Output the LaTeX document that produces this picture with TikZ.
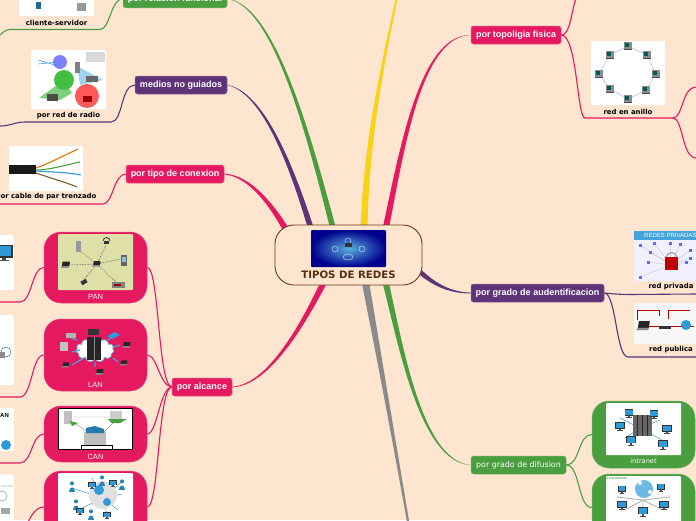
\documentclass[tikz,border=0pt]{standalone}
\usepackage{fontspec}
\setmainfont{Liberation Sans}
\newfontfamily\vfont{DejaVu Sans}
\usetikzlibrary{calc,backgrounds,shapes.geometric,shapes.symbols}
\definecolor{bgc}{HTML}{FDE5CF}
\definecolor{pk}{HTML}{E5195F}
\definecolor{pu}{HTML}{5F3378}
\definecolor{gr}{HTML}{4A9E3F}
\definecolor{ye}{HTML}{FBD116}
\definecolor{gy}{HTML}{8A8A8A}
\definecolor{br}{HTML}{6B3A14}
\definecolor{sky}{HTML}{2E9AD8}
\definecolor{panbg}{HTML}{DFDFA8}
\tikzset{
 pill/.style={rounded corners=2.5pt,inner sep=0pt,minimum height=18pt,text=white,font=\bfseries\fontsize{9}{10}\selectfont,draw=#1!75!white,line width=.5pt,fill=#1},
 bigcard/.style={rounded corners=17pt,inner sep=0pt,minimum width=103pt,fill=#1,draw=#1!80!white,line width=.5pt},
 photo/.style={rounded corners=1pt,inner sep=0pt,fill=white},
 caption/.style={font=\vfont\bfseries\fontsize{6.9}{8}\selectfont,text=black,inner sep=0pt},
 subcap/.style={font=\fontsize{7.5}{9}\selectfont,text=white!90!pink,inner sep=0pt},
 conn/.style={line width=1.1pt,#1},
}
% tapered main branch: colour, from, c1, c2, to, half-width x, half-width y
\newcommand\taper[7]{\fill[#1] ($(#2)+(#6,#7)$) .. controls ($(#3)+(#6*.7,#7*.7)$) and ($(#4)+(#6*.3,#7*.3)$) .. ($(#5)+(#6*.2,#7*.2)$) -- ($(#5)-(#6*.2,#7*.2)$) .. controls ($(#4)-(#6*.3,#7*.3)$) and ($(#3)-(#6*.7,#7*.7)$) .. ($(#2)-(#6,#7)$) -- cycle;}
% monitor icon
\newcommand\mon[3]{\begin{scope}[shift={(#1,#2)},scale=#3]\fill[black!80] (-4,-3.2) rectangle (4,2.6);\fill[sky] (-3.3,-2.6) rectangle (3.3,2);\fill[black!70] (-1,2.6) rectangle (1,3.6);\fill[black!70] (-2.4,3.6) rectangle (2.4,4.2);\end{scope}}
% laptop icon
\newcommand\lap[3]{\begin{scope}[shift={(#1,#2)},scale=#3]\fill[black!85] (-3.2,-3) -- (3.6,-3) -- (3,1.2) -- (-3.8,1.2) -- cycle;\fill[black!45] (-3.8,1.2) -- (3,1.2) -- (2.6,2.6) -- (-5,2.6) -- cycle;\end{scope}}
% ring computer icon
\newcommand\ringpc[2]{\begin{scope}[shift={(#1,#2)}]\fill[black!45] (-3.6,-4) rectangle (3.6,2.6);\fill[teal!70!black] (-2.8,-3) rectangle (.6,1);\fill[black!70] (-4,2.6) rectangle (4,4.2);\end{scope}}
% person icon
\newcommand\person[3]{\begin{scope}[shift={(#1,#2)},scale=#3]\fill[sky!85!black] (0,-3) circle (1.7);\fill[sky!85!black] (-2.3,4) .. controls (-2.3,-1) and (2.3,-1) .. (2.3,4) -- cycle;\end{scope}}
\begin{document}
\begin{tikzpicture}[x=1pt,y=-1pt]
\useasboundingbox (0,0) rectangle (696,520);
\begin{scope}
\clip (0,0) rectangle (696,520);
% ---------- central topic
\node (root) [rounded corners=19pt,draw=br,line width=.9pt,fill=bgc,minimum width=147pt,minimum height=60pt,inner sep=0pt] at (348.5,255) {};
\node (rootimg) [rounded corners=1pt,inner sep=0pt,minimum width=75pt,minimum height=37pt,inner color=sky!80!white,outer color=blue!55!black] at (348.5,248.5) {};
\draw[white,opacity=.7,line width=.5pt] (335,249) circle (3) (348,241) circle (3) (362,249) circle (3) (348,257) ellipse (5 and 3);
\fill[black!80] (345,243) rectangle (352,247);
\node (roottxt) [inner sep=0pt,text=br!80!black,font=\vfont\bfseries\fontsize{10.2}{12}\selectfont] at (348.5,275) {TIPOS DE REDES};
% ---------- main topics
\node (rel) [pill=gr,minimum width=104pt] at (175,-1.2) {por relacion funcional};
\node (med) [pill=pu,minimum width=92pt] at (181,85) {medios no guiados};
\node (tip) [pill=pk,minimum width=98pt] at (175,174) {por tipo de conexion};
\node (alc) [pill=pk,minimum width=60pt] at (202,387) {por alcance};
\node (top) [pill=pk,minimum width=90pt] at (516,35) {por topoligia fisica};
\node (aud) [pill=pu,minimum width=133pt] at (537.5,293) {por grado de audentificacion};
\node (dif) [pill=gr,minimum width=95pt,font=\vfont\fontsize{7.9}{10}\selectfont] at (518.5,465) {por grado de difusion};
% ---------- big coloured cards
\node (pan) [bigcard=pk,minimum height=71pt] at (95.5,267.5) {};
\node (lan) [bigcard=pk,minimum height=72pt] at (95.5,355) {};
\node (can) [bigcard=pk,minimum height=56pt] at (95.5,434) {};
\node (wan) [bigcard=pk,minimum height=72pt] at (95.5,507) {};
\node (int) [bigcard=gr,minimum height=67pt] at (643.5,434.5) {};
\node (ext) [bigcard=gr,minimum height=67pt] at (643.5,507.5) {};
% ---------- PAN
\node (panimg) [photo,fill=panbg,minimum width=75pt,minimum height=56pt] at (95.5,262) {};
\draw[densely dotted,black!70,line width=.6pt] (97,264) -- (80,251) (97,264) -- (106,245) (97,264) -- (121,259) (97,264) -- (83,281) (97,264) -- (117,283) (97,264) -- (70,265);
\lap{97}{264}{1}\lap{66}{265}{1.1}
\fill[black!40] (76,241) rectangle (81,252);
\draw[black!80,line width=.8pt] (103,241) arc (180:360:3.5);\fill[black!80] (104,241) rectangle (109,244);
\fill[black!60] (121,255) rectangle (127,266);\fill[sky!60!white] (122,257) rectangle (126,262);
\fill[black!80,rotate around={30:(84,282)}] (81,280) rectangle (87,284);
\fill[black!50] (112,282) rectangle (125,288);\fill[red!60!black] (114,284) rectangle (121,286);
\node (pantxt) [subcap] at (95.5,296.5) {PAN};
% ---------- LAN
\node (lancloud) [cloud,cloud puffs=11,aspect=1.5,fill=white,draw=sky!70!white,line width=.7pt,minimum width=38pt,minimum height=24pt,inner sep=0pt] at (95,350) {};
\fill[black!85] (87,337) rectangle (101,360);\draw[black!45,line width=.4pt] (94,337) -- (94,360);
\draw[sky!90!white,line width=1.2pt] (77,340) -- (71,338) (72,352) -- (80,350) (108,340) -- (114,336) (113,347) -- (120,345) (113,358) -- (118,362) (95,362) -- (95,367) (84,358) -- (72,365);
\fill[black!30] (66,333) rectangle (76,338);
\fill[black!25] (60,342) rectangle (68,351);
\fill[black!80] (88,329) rectangle (99,335);
\fill[sky] (107,336) -- (115,332) -- (120,335) -- (112,339) -- cycle;
\lap{127}{345}{1}\lap{124}{363}{.9}\lap{66}{365}{.9}\lap{100}{372}{1}
\node (lantxt) [subcap] at (95.5,384.5) {LAN};
% ---------- CAN
\node (canimg) [rectangle,inner sep=0pt,fill=white,draw=black,line width=.8pt,minimum width=74pt,minimum height=41pt] at (95.5,428.5) {};
\draw[black!40,line width=.4pt] (73,417) -- (108,417) (75,423) -- (90,434) (113,423) -- (102,434);
\fill[black!25] (64,411) rectangle (72,424);\fill[gr] (70,421) -- (78,423) -- (72,426) -- cycle;
\fill[black!20] (110,411) rectangle (122,423);\fill[gr] (108,419) -- (127,419) -- (120,423) -- (112,423) -- cycle;
\fill[black!25] (84,432) rectangle (106,446);\fill[sky!80!black] (86,428) -- (95,426) -- (104,429) -- (104,433) -- (86,433) -- cycle;
\draw[black,line width=.5pt] (81,445) rectangle (112,449);
\node (cantxt) [subcap] at (95.5,456.5) {CAN};
% ---------- WAN
\node (wanimg) [photo,minimum width=75pt,minimum height=56pt] at (95.5,501) {};
\draw[sky,line width=.5pt] (103,498) -- (72,488) (103,498) -- (78,510) (103,498) -- (92,478) (103,498) -- (122,494) (103,498) -- (118,510) (103,498) -- (108,519) (103,498) -- (124,480);
\fill[black!12] (103,495) circle (14);\fill[sky] (99,490) circle (5);\fill[sky] (107,502) circle (4);
\person{72}{487}{1.2}\person{102}{481}{1.2}\person{122}{485}{1.2}\person{91}{515}{1.2}\person{76}{505}{1.2}
\mon{92}{485}{.9}\mon{113}{483}{.9}\mon{107}{515}{.9}\mon{80}{511}{.9}
% ---------- right green cards
\node (intimg) [photo,minimum width=75pt,minimum height=52pt] at (643.5,429) {};
\draw[sky,line width=.5pt] (640,428) -- (620,418) (640,428) -- (660,420) (640,428) -- (625,438) (640,428) -- (662,440);
\fill[black!60] (633,415) rectangle (652,436);\draw[black!85,line width=.5pt] (637,415) -- (637,436) (642,415) -- (642,436) (647,415) -- (647,436);
\mon{629}{413}{1.1}\mon{654}{414}{1.1}\mon{620}{426}{1.2}\mon{667}{429}{1.2}\mon{631}{440}{1.3}\mon{663}{444}{1.3}
\node (inttxt) [inner sep=0pt,font=\vfont\fontsize{6.6}{8}\selectfont,text=white] at (643.5,461) {intranet};
\node (extimg) [photo,minimum width=75pt,minimum height=56pt] at (643.5,504) {};
\draw[black!30,line width=.9pt] (643,500) -- (617,497) (643,500) -- (625,510) (643,500) -- (643,515) (643,500) -- (663,510) (643,500) -- (670,497);
\fill[sky!70!white] (644,489) circle (9);\fill[white] (640,483) circle (2) (650,492) circle (2);
\mon{622}{489}{1}\mon{661}{487}{1}\mon{622}{505}{1.2}\mon{664}{505}{1.2}\mon{643}{511}{1.3}
\node (exttxt) [inner sep=0pt,font=\bfseries\fontsize{3.2}{4}\selectfont,text=gr] at (615.5,478.5) {La red Internet};
% ---------- white picture cards with captions
\node (cliimg) [photo,minimum width=75pt,minimum height=36pt] at (56.5,-2) {};
\fill[sky!70!black] (36,2) rectangle (41,9);\fill[black!40] (77,3) rectangle (86,11);
\node (clitxt) [caption] at (56.5,22.5) {cliente-servidor};
\node (radimg) [photo,minimum width=75pt,minimum height=59pt] at (68.5,79.5) {};
\fill[green!45!gray!70!white] (39,98) -- (64,80) -- (72,93) -- (60,100) -- cycle;
\fill[blue!50!white] (60,62) circle (7);
\fill[green!50!gray] (64,80) circle (10);
\fill[red!65!white] (87,96) circle (12);
\fill[sky!45!white] (77,66) -- (103,80) -- (80,85) -- cycle;
\fill[black!15] (86,52) rectangle (105,62);
\draw[sky,line width=.5pt] (38,60) -- (58,66) (38,64) -- (58,62);
\fill[black!50] (75,62) rectangle (80,73);\fill[black!60] (86,76) rectangle (98,82);
\fill[black!70] (47,94) rectangle (58,101);\fill[red!60!black] (83,96) rectangle (92,102);
\node (radtxt) [caption] at (68.5,115.5) {por red de radio};
\node (cabimg) [photo,minimum width=74pt,minimum height=45pt] at (46,168.5) {};
\fill[black!90] (9,165) rectangle (36,174);
\draw[orange!90!black,line width=1.1pt] (36,168) .. controls (50,163) and (65,155) .. (78,149);
\draw[gr,line width=1.1pt] (36,170) .. controls (50,170) and (65,165) .. (80,162);
\draw[sky,line width=1.1pt] (36,171) .. controls (50,172) and (65,172) .. (81,175);
\draw[brown!70!black,line width=1.1pt] (36,173) .. controls (50,178) and (65,182) .. (77,187);
\node (cabtxt) [caption] at (46,197) {por cable de par trenzado};
\node (anillo) [photo,minimum width=74pt,minimum height=64pt] at (628,73) {};
\draw[blue!30!white,line width=.5pt] (628,46) -- (647,55) -- (656,74) -- (646,90) -- (628,99) -- (610,89) -- (599,74) -- (610,55) -- cycle;
\ringpc{628}{46}\ringpc{647}{55}\ringpc{656}{74}\ringpc{646}{90}\ringpc{628}{99}\ringpc{610}{89}\ringpc{599}{74}\ringpc{610}{55}
\node (anitxt) [caption] at (628,111.5) {red en anillo};
\node (privimg) [photo,fill=blue!6!white,minimum width=62pt,minimum height=50pt,anchor=west] at (634,256) {};
\fill[sky!90!white] (634,231) rectangle (696,240);
\node (privhd) [inner sep=0pt,anchor=west,font=\fontsize{6}{7}\selectfont,text=white] at (644,235.5) {REDES PRIVADAS};
\foreach \a/\b in {640/245,648/262,650/252,640/277,680/244,690/250,690/258,686/262,654/243,670/243}{\draw[black!25,line width=.3pt] (671,265) -- (\a,\b);\fill[blue!60!white] (\a-1.5,\b-1.5) rectangle (\a+1.5,\b+1.5);}
\draw[black!40,line width=1pt] (666,258) arc (180:360:5.5);
\fill[red!75!black] (665,257) rectangle (678,270);
\node (privtxt) [caption] at (671,287) {red privada};
\node (pubimg) [photo,fill=black!3,minimum width=62pt,minimum height=41pt,anchor=west] at (634,323.5) {};
\draw[red!70!black,line width=.5pt] (637,320) -- (637,310) -- (659,310) -- (659,316) (668,319) -- (668,310) -- (690,310) (643,326) -- (694,326);
\lap{644}{326}{1.6}\fill[black!80] (659,326) rectangle (671,329);\fill[sky] (686,325) circle (5);
\node (pubtxt) [caption] at (671,349.5) {red publica};
% ---------- cut-off thumbnails at the left edge
\node (th1) [photo,minimum width=28pt,minimum height=55pt,anchor=east] at (14,262.5) {};
\mon{4}{252}{2.2}
\node (th2) [photo,minimum width=28pt,minimum height=70pt,anchor=east] at (14,350) {};
\draw[sky!70!black,line width=.5pt] (6,352) circle (5);\fill[black!45] (0,352) rectangle (5,358);
\node (th3) [photo,minimum width=28pt,minimum height=43pt,anchor=east] at (14,429.5) {};
\node (th3t) [inner sep=0pt,anchor=west,font=\bfseries\fontsize{6}{7}\selectfont] at (0,415) {AN};
\fill[sky] (6,445) circle (5);
\node (th4) [photo,minimum width=28pt,minimum height=55pt,anchor=east] at (14,502) {};
\draw[black!30,line width=.8pt] (1,486) -- (13,486) (2,496) circle (5);\fill[black!35] (1,508) rectangle (10,514);
\end{scope}
% ---------- connectors (below the nodes)
\begin{pgfonlayer}{background}
\fill[bgc] (0,0) rectangle (696,520);
\begin{scope}
\clip (0,0) rectangle (696,520);
\coordinate (rTip) at (288,233);
\coordinate (rMed) at (312,232);
\coordinate (rRel) at (334,232);
\coordinate (rYel) at (364,232);
\coordinate (rTop) at (385,232);
\coordinate (rAlc) at (325,280);
\coordinate (rGry) at (365,280);
\coordinate (rDif) at (385,280);
\coordinate (rAud) at (416,268);
\coordinate (yelEnd) at (405,-40);
\coordinate (gryEnd) at (425,620);
\taper{pk}{rTip}{272,205}{250,176}{tip.east}{2.6}{-1.8}
\taper{pu}{rMed}{290,160}{262,92}{med.east}{3}{0}
\taper{gr}{rRel}{310,140}{275,5}{rel.east}{3}{0}
\taper{ye}{rYel}{366,130}{388,40}{yelEnd}{3.5}{0}
\taper{pk}{rTop}{402,150}{420,35}{top.west}{3.2}{0}
\taper{pk}{rAlc}{305,320}{270,385}{alc.east}{3}{1}
\taper{gy}{rGry}{376,340}{396,450}{gryEnd}{3.8}{0}
\taper{gr}{rDif}{400,340}{420,462}{dif.west}{3.2}{0}
\taper{pu}{rAud}{432,284}{450,293}{aud.west}{1.5}{-2.2}
% first-level connectors
\coordinate (edgeCli) at (0,35);
\coordinate (midCli) at (100,29.5);
\draw[conn=gr] (rel.west) .. controls +(-12,0) and +(10,0) .. (midCli) -- (11,29.5) .. controls (6,29.5) and (3,32) .. (edgeCli);
\coordinate (edgeRad) at (0,126);
\coordinate (midRad) at (111,122);
\draw[conn=pu] (med.west) .. controls +(-14,0) and +(12,0) .. (midRad) -- (25,122) .. controls (15,122) and (10,126) .. (edgeRad);
\coordinate (edgeCab) at (0,204);
\coordinate (midCab) at (103,204);
\draw[conn=pk] (tip.west) .. controls +(-12,0) and +(10,0) .. (midCab) -- (edgeCab);
\coordinate (edge1) at (0,302);
\coordinate (edge2) at (0,397);
\coordinate (edge3) at (0,463);
\coordinate (edge4) at (27,525);
\coordinate (bend1) at (20,302);
\coordinate (bend2) at (20,397);
\coordinate (bend3) at (20,463);
\draw[conn=pk] (pan.west) .. controls +(-12,0) and +(12,0) .. (bend1) -- (edge1);
\draw[conn=pk] (lan.west) .. controls +(-12,0) and +(12,0) .. (bend2) -- (edge2);
\draw[conn=pk] (can.west) .. controls +(-12,0) and +(12,0) .. (bend3) -- (edge3);
\draw[conn=pk] (wan.west) .. controls +(-8,0) and +(3,-8) .. (edge4);
\draw[conn=pk] (alc.west) .. controls +(-14,-2) and +(12,0) .. (pan.east);
\draw[conn=pk] (alc.west) .. controls +(-12,-1) and +(10,0) .. (lan.east);
\draw[conn=pk] (alc.west) .. controls +(-12,1) and +(10,0) .. (can.east);
\draw[conn=pk] (alc.west) .. controls +(-14,2) and +(12,0) .. (wan.east);
\coordinate (topUp) at (576,-2);
\coordinate (ring1) at (585,118);
\coordinate (ring2) at (673,118);
\coordinate (ringUp) at (696,87);
\coordinate (ringDn) at (696,158);
\draw[conn=pk] (top.east) .. controls +(9,0) and +(-5,15) .. (topUp);
\draw[conn=pk] (top.east) .. controls +(16,0) and +(-8,0) .. (ring1) -- (ring2);
\draw[conn=pk] (ring2) .. controls +(10,0) and +(-14,0) .. (ringUp);
\draw[conn=pk] (ring2) .. controls +(10,0) and +(-14,0) .. (ringDn);
\coordinate (audBend) at (630,294.5);
\coordinate (audLow) at (628,357);
\coordinate (audUp) at (696,294);
\coordinate (audDn) at (696,357);
\draw[conn=pu] (aud.east) .. controls +(10,1) and +(-8,0) .. (audBend) -- (audUp);
\draw[conn=pu] (aud.east) .. controls +(12,0) and +(-12,0) .. (audLow) -- (audDn);
\draw[conn=gr] (dif.east) .. controls +(14,0) and +(-14,0) .. (int.west);
\draw[conn=gr] (dif.east) .. controls +(14,0) and +(-14,0) .. (ext.west);
\end{scope}
\end{pgfonlayer}
\end{tikzpicture}
\end{document}
